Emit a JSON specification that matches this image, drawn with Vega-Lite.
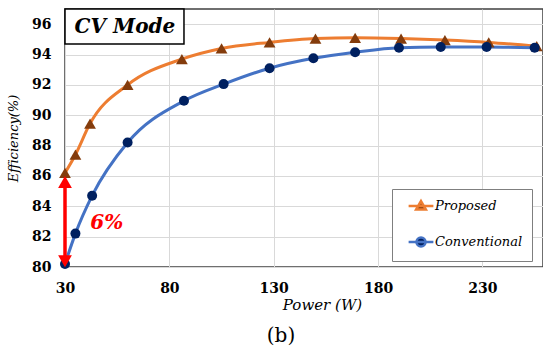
{
  "$schema": "https://vega.github.io/schema/vega-lite/v6.json",
  "width": 478,
  "height": 258,
  "autosize": {"type": "none"},
  "padding": {"left": 65, "top": 9, "right": 0, "bottom": 89},
  "background": "white",
  "config": {
    "view": {"stroke": "#404040", "strokeWidth": 1.5},
    "font": "DejaVu Serif"
  },
  "title": {
    "text": "(b)",
    "orient": "bottom",
    "anchor": "middle",
    "font": "DejaVu Serif",
    "fontSize": 20,
    "fontWeight": "normal",
    "color": "black",
    "dx": -23,
    "offset": 14
  },
  "datasets": {
    "eff": [
      {"series": "Proposed", "power": 30, "eff": 86.2},
      {"series": "Proposed", "power": 35, "eff": 87.4},
      {"series": "Proposed", "power": 42, "eff": 89.45},
      {"series": "Proposed", "power": 60, "eff": 92.0},
      {"series": "Proposed", "power": 86, "eff": 93.7},
      {"series": "Proposed", "power": 105, "eff": 94.4},
      {"series": "Proposed", "power": 128, "eff": 94.8},
      {"series": "Proposed", "power": 150, "eff": 95.05},
      {"series": "Proposed", "power": 169, "eff": 95.1},
      {"series": "Proposed", "power": 191, "eff": 95.05},
      {"series": "Proposed", "power": 212, "eff": 94.95},
      {"series": "Proposed", "power": 233, "eff": 94.8},
      {"series": "Proposed", "power": 256, "eff": 94.55},
      {"series": "Conventional", "power": 30, "eff": 80.2},
      {"series": "Conventional", "power": 35, "eff": 82.2},
      {"series": "Conventional", "power": 43, "eff": 84.7},
      {"series": "Conventional", "power": 60, "eff": 88.2},
      {"series": "Conventional", "power": 87, "eff": 90.95},
      {"series": "Conventional", "power": 106, "eff": 92.05},
      {"series": "Conventional", "power": 128, "eff": 93.1},
      {"series": "Conventional", "power": 149, "eff": 93.75},
      {"series": "Conventional", "power": 169, "eff": 94.15},
      {"series": "Conventional", "power": 190, "eff": 94.45},
      {"series": "Conventional", "power": 210, "eff": 94.5},
      {"series": "Conventional", "power": 232, "eff": 94.5},
      {"series": "Conventional", "power": 255, "eff": 94.45}
    ],
    "one": [{"id": 1}]
  },
  "layer": [
    {
      "data": {"name": "eff"},
      "mark": {"type": "line", "interpolate": "monotone", "strokeWidth": 3},
      "encoding": {
        "x": {
          "field": "power",
          "type": "quantitative",
          "scale": {"domain": [30, 259], "nice": false, "zero": false},
          "axis": {
            "values": [30, 80, 130, 180, 230],
            "tickCount": 10,
            "title": "Power (W)",
            "titleFont": "DejaVu Serif",
            "titleFontStyle": "italic",
            "titleFontWeight": "normal",
            "titleFontSize": 15,
            "titleColor": "black",
            "titleX": 257,
            "titleY": 30,
            "labelFont": "DejaVu Serif",
            "labelFontWeight": "bold",
            "labelFontSize": 14,
            "labelColor": "black",
            "labelPadding": 14,
            "labelFlush": false,
            "labelOverlap": false,
            "ticks": false,
            "domain": false,
            "grid": true,
            "gridColor": "#d9d9d9",
            "gridWidth": 1
          }
        },
        "y": {
          "field": "eff",
          "type": "quantitative",
          "scale": {"domain": [80, 97], "nice": false, "zero": false},
          "axis": {
            "values": [80, 82, 84, 86, 88, 90, 92, 94, 96],
            "tickCount": 10,
            "title": "Efficiency(%)",
            "titleFont": "DejaVu Serif",
            "titleFontStyle": "italic",
            "titleFontWeight": "normal",
            "titleFontSize": 13,
            "titleColor": "black",
            "titlePadding": 11,
            "labelFont": "DejaVu Serif",
            "labelFontWeight": "bold",
            "labelFontSize": 14,
            "labelColor": "black",
            "labelPadding": 14,
            "labelOverlap": false,
            "ticks": false,
            "domain": false,
            "grid": true,
            "gridColor": "#d9d9d9",
            "gridWidth": 1
          }
        },
        "stroke": {
          "field": "series",
          "type": "nominal",
          "scale": {"domain": ["Proposed", "Conventional"], "range": ["#ED7D31", "#4472C4"]},
          "legend": {
            "orient": "none",
            "legendX": 327,
            "legendY": 180,
            "title": null,
            "strokeColor": "#7f7f7f",
            "fillColor": "white",
            "padding": 9,
            "rowPadding": 17,
            "labelFont": "DejaVu Serif",
            "labelFontStyle": "italic",
            "labelFontSize": 13,
            "labelColor": "black",
            "symbolSize": 170,
            "symbolStrokeWidth": 2.5,
            "symbolOffset": 12,
            "labelOffset": 6,
            "labelLimit": 200,
            "encode": {
              "symbols": {
                "update": {
                  "shape": {"signal": "datum.value === 'Proposed' ? 'M-1.9,0H1.9M0,-0.75L0.75,0.55L-0.75,0.55Z' : 'M-1.9,0H1.9M0.7,0A0.7,0.7,0,1,1,-0.7,0A0.7,0.7,0,1,1,0.7,0Z'"},
                  "fill": {"signal": "datum.value === 'Proposed' ? '#843C0C' : '#002060'"},
                  "fillOpacity": {"value": 1},
                  "opacity": {"value": 1}
                }
              }
            }
          }
        }
      }
    },
    {
      "data": {"name": "eff"},
      "transform": [{"filter": "datum.series === 'Proposed'"}],
      "mark": {"type": "point", "shape": "triangle-up", "filled": true, "fill": "#843C0C", "size": 140, "opacity": 1},
      "encoding": {
        "x": {"field": "power", "type": "quantitative"},
        "y": {"field": "eff", "type": "quantitative"}
      }
    },
    {
      "data": {"name": "eff"},
      "transform": [{"filter": "datum.series === 'Conventional'"}],
      "mark": {"type": "point", "shape": "circle", "filled": true, "fill": "#002060", "size": 100, "opacity": 1},
      "encoding": {
        "x": {"field": "power", "type": "quantitative"},
        "y": {"field": "eff", "type": "quantitative"}
      }
    },
    {
      "data": {"name": "one"},
      "mark": {"type": "rule", "color": "#FF0000", "strokeWidth": 3.5},
      "encoding": {
        "x": {"datum": 30, "type": "quantitative"},
        "y": {"datum": 80.4, "type": "quantitative"},
        "y2": {"datum": 85.6}
      }
    },
    {
      "data": {"name": "one"},
      "mark": {"type": "point", "shape": "triangle-up", "filled": true, "color": "#FF0000", "size": 190, "opacity": 1},
      "encoding": {
        "x": {"datum": 30, "type": "quantitative"},
        "y": {"datum": 85.6, "type": "quantitative"}
      }
    },
    {
      "data": {"name": "one"},
      "mark": {"type": "point", "shape": "triangle-down", "filled": true, "color": "#FF0000", "size": 190, "opacity": 1},
      "encoding": {
        "x": {"datum": 30, "type": "quantitative"},
        "y": {"datum": 80.38, "type": "quantitative"}
      }
    },
    {
      "data": {"name": "one"},
      "mark": {"type": "text", "text": "6%", "font": "DejaVu Serif", "fontSize": 20, "fontWeight": "bold", "fontStyle": "italic", "color": "#FF0000", "baseline": "middle", "align": "center"},
      "encoding": {
        "x": {"datum": 50, "type": "quantitative"},
        "y": {"datum": 82.9, "type": "quantitative"}
      }
    },
    {
      "data": {"name": "one"},
      "mark": {"type": "rect", "fill": "white", "stroke": "black", "strokeWidth": 1.5},
      "encoding": {
        "x": {"datum": 30, "type": "quantitative"},
        "x2": {"datum": 87},
        "y": {"datum": 94.7, "type": "quantitative"},
        "y2": {"datum": 97}
      }
    },
    {
      "data": {"name": "one"},
      "mark": {"type": "text", "text": "CV Mode", "font": "DejaVu Serif", "fontSize": 20, "fontWeight": "bold", "fontStyle": "italic", "color": "black", "baseline": "middle", "align": "center"},
      "encoding": {
        "x": {"datum": 58.7, "type": "quantitative"},
        "y": {"datum": 95.83, "type": "quantitative"}
      }
    }
  ]
}
